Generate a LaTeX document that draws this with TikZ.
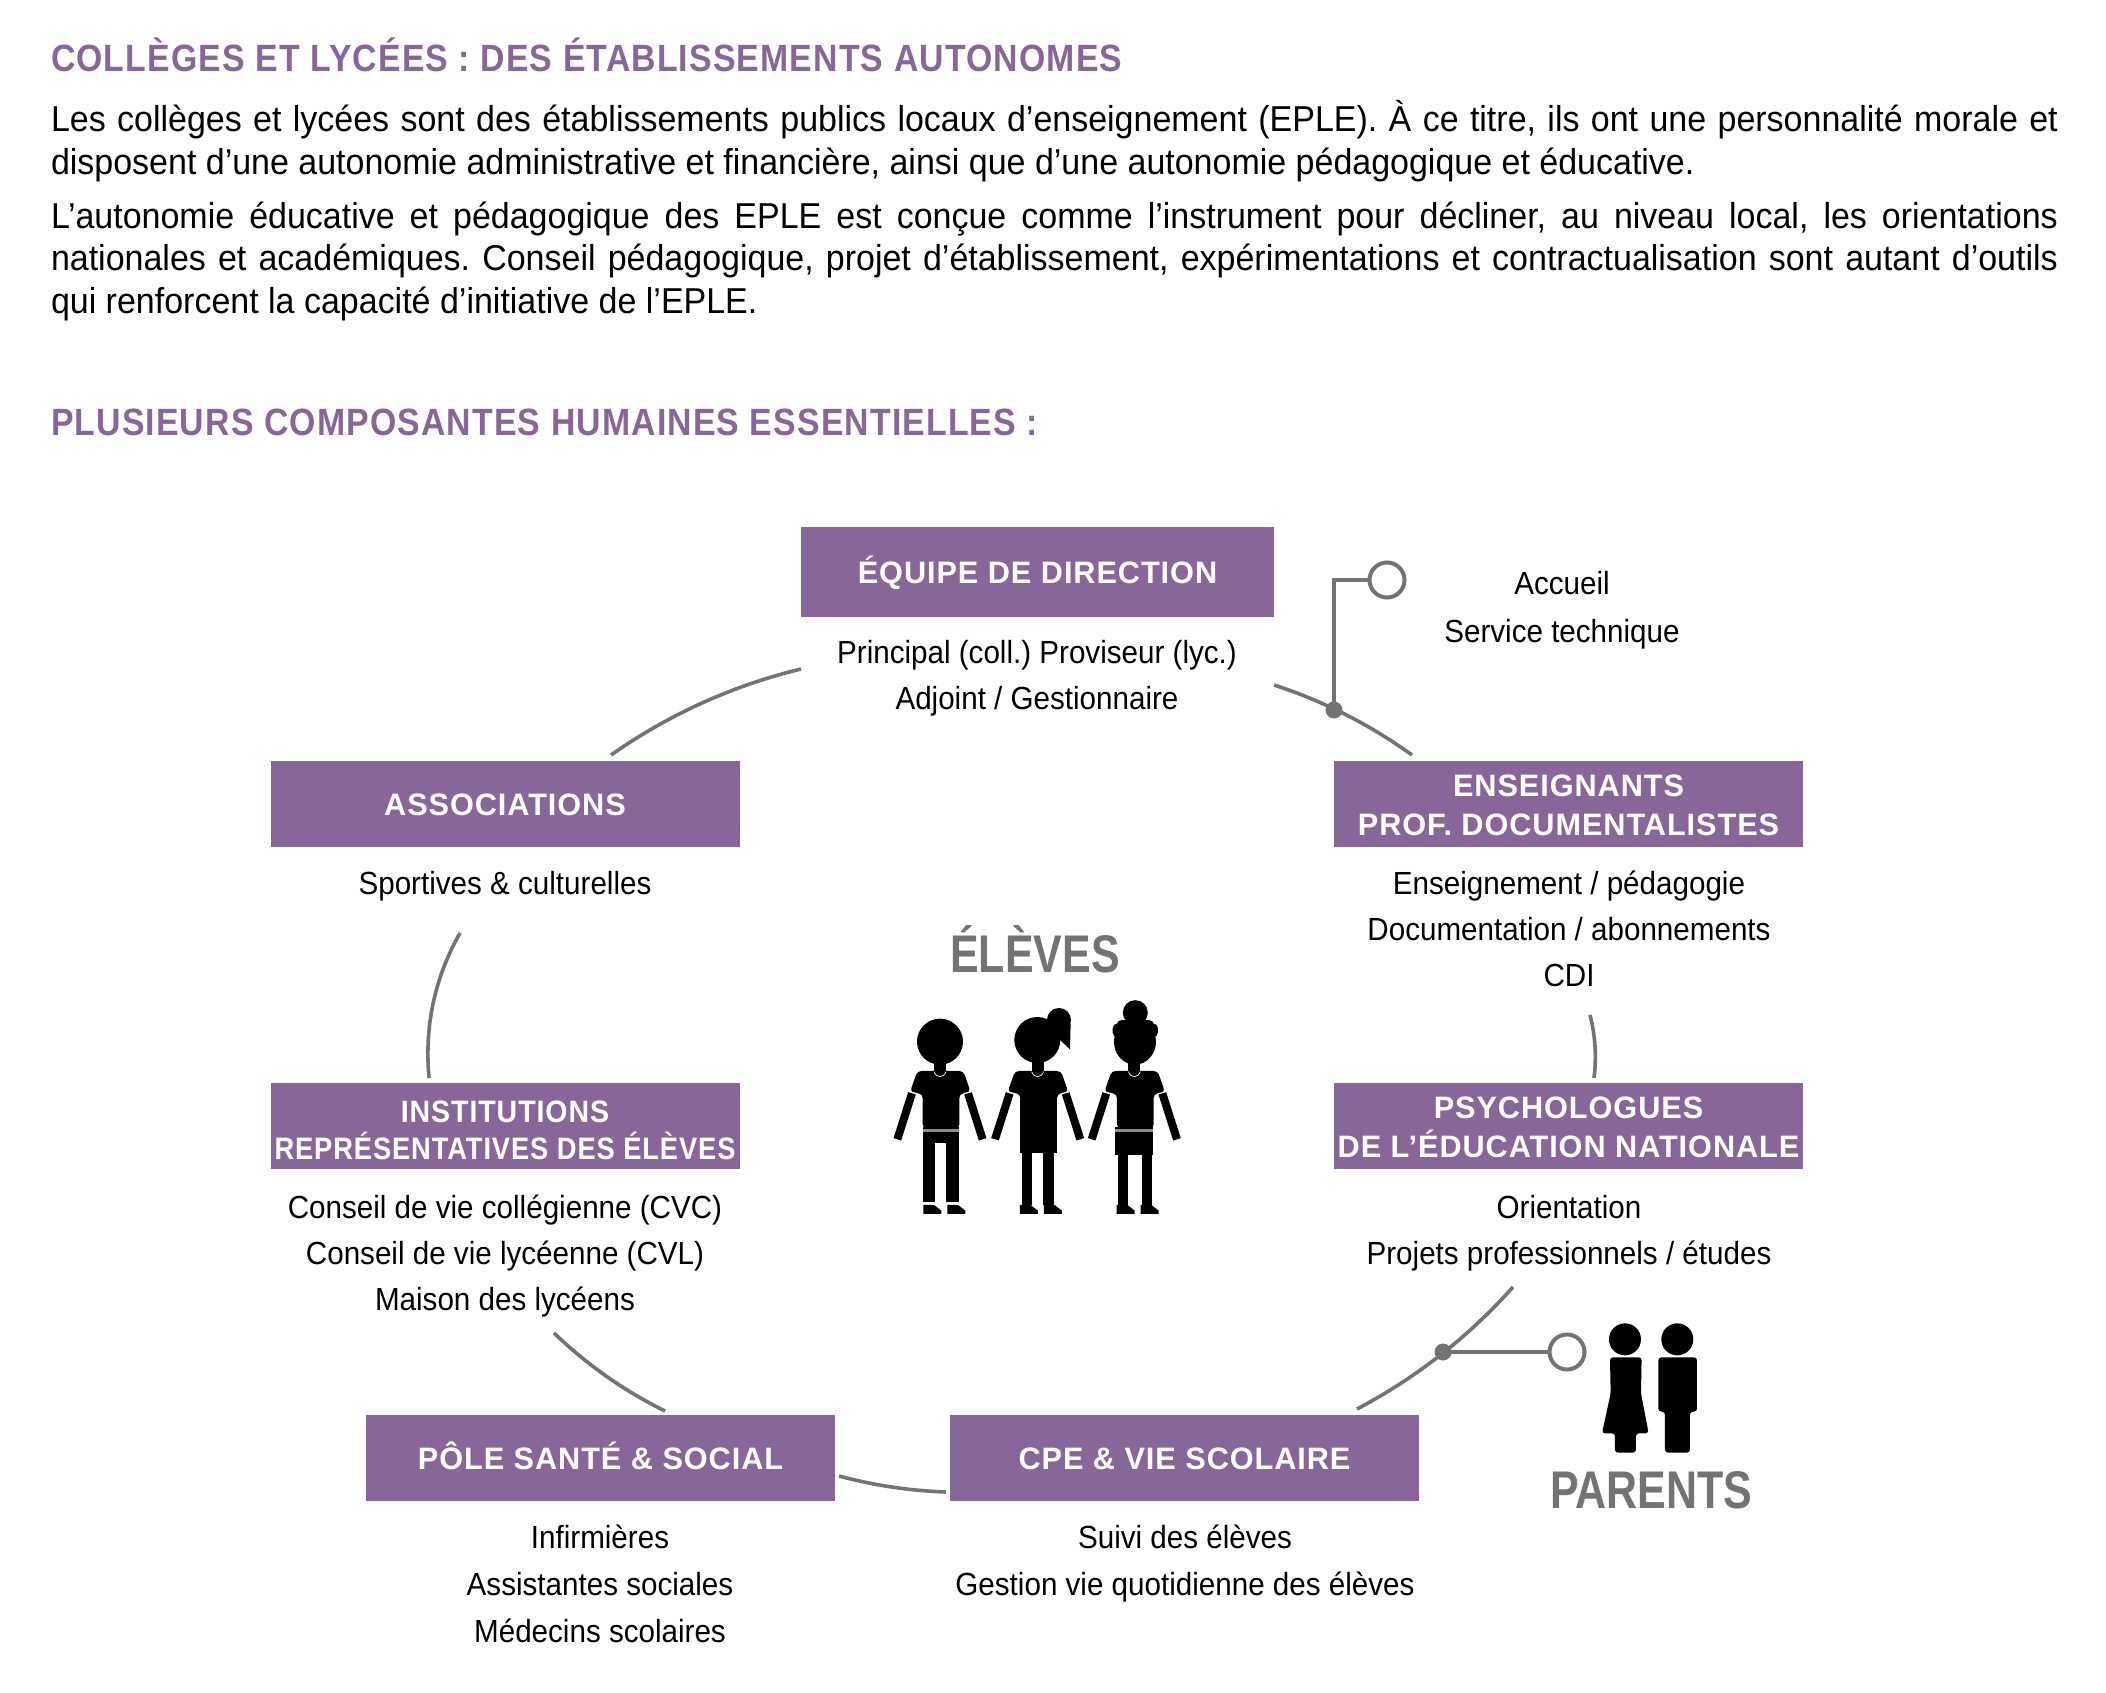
\documentclass[tikz,border=0pt]{standalone}
\usepackage{graphicx}
\usepackage{fontspec}
\usetikzlibrary{calc}
\setmainfont[FakeStretch=0.944]{Liberation Sans}
\newfontfamily\listf[FakeStretch=0.925]{Liberation Sans}
\newfontfamily\boxf[FakeStretch=0.99,LetterSpace=3]{Liberation Sans}
\newfontfamily\boxg[FakeStretch=0.92,LetterSpace=3]{Liberation Sans}
\newfontfamily\headf[FakeStretch=0.89,LetterSpace=3]{Liberation Sans}
\newfontfamily\bigf[FakeStretch=0.81]{Liberation Sans}
\definecolor{violetb}{HTML}{886699}
\definecolor{grisc}{HTML}{737373}
\frenchspacing
\newcommand{\rows}[3]{\fontsize{#1}{#2}\selectfont\begin{tabular}[t]{@{}c@{}}#3\end{tabular}}
\newcommand{\lrows}[3]{\fontsize{#1}{#2}\selectfont\listf\begin{tabular}[t]{@{}c@{}}#3\end{tabular}}
\newcommand{\just}[1]{\makebox[2007pt][s]{#1}}
\newcommand{\armsNeck}{%
  \fill (222,305) rectangle (258,345);
  \fill[rounded corners=4pt] (172,333) -- (310,333) -- (332,396) -- (298,402) -- (298,505) -- (188,505) -- (188,402) -- (150,396) -- cycle;
  \draw[white,line width=0.7pt] (222,335) .. controls (230,355) and (250,355) .. (258,335);
  \draw[line width=8pt] (156,400) -- (112,538);
  \draw[line width=8pt] (324,400) -- (368,538);
  \draw[white,line width=0.6pt] (148,396) -- (172,400);
  \draw[white,line width=0.6pt] (310,400) -- (334,396);
}
\newcommand{\shoes}[2]{%
  \fill (#1,735) -- (#1+32,735) -- (#1+54,752) -- (#1+54,762) -- (#1,762) -- cycle;
  \fill (#2,735) -- (#2+32,735) -- (#2+54,752) -- (#2+54,762) -- (#2,762) -- cycle;
}
\tikzset{
  every node/.style={inner sep=0pt,outer sep=0pt},
  boxn/.style={fill=violetb,text=white,minimum width=469pt,minimum height=86pt,font=\boxf\bfseries},
  listn/.style={anchor=base,text=black},
  para/.style={anchor=base west,text=black,font=\fontsize{36}{42}\selectfont},
  titre/.style={anchor=base west,text=violetb,font=\fontsize{38}{42}\selectfont\headf\bfseries},
  bigt/.style={anchor=base,text=grisc,font=\fontsize{53}{56}\selectfont\bigf\bfseries},
  arcl/.style={draw=grisc,line width=3.6pt},
  linkl/.style={draw=grisc,line width=4pt},
  ringn/.style={circle,draw=grisc,line width=4pt,fill=white,minimum size=35pt},
  dotn/.style={circle,fill=grisc,minimum size=17pt}
}
\newcommand{\arcq}[3]{\draw[arcl] (#1) .. controls ($(#1)!0.6667!(#2)$) and ($(#3)!0.6667!(#2)$) .. (#3);}
\begin{document}
\begin{tikzpicture}[x=1pt,y=-1pt]
\useasboundingbox (0,0) rectangle (2106,1693);
\fill[white] (0,0) rectangle (2106,1693);

% Texte d'en-tete
\node[titre] (t1) at (51,72) {COLLÈGES ET LYCÉES : DES ÉTABLISSEMENTS AUTONOMES};
\node[para] (p1) at (51,132) {\just{Les collèges et lycées sont des établissements publics locaux d’enseignement (EPLE). À ce titre, ils ont une personnalité morale et}};
\node[para] (p2) at (51,174.5) {disposent d’une autonomie administrative et financière, ainsi que d’une autonomie pédagogique et éducative.};
\node[para] (p3) at (51,229) {\just{L’autonomie éducative et pédagogique des EPLE est conçue comme l’instrument pour décliner, au niveau local, les orientations}};
\node[para] (p4) at (51,271) {\just{nationales et académiques. Conseil pédagogique, projet d’établissement, expérimentations et contractualisation sont autant d’outils}};
\node[para] (p5) at (51,314) {qui renforcent la capacité d’initiative de l’EPLE.};
\node[titre] (t2) at (51,435) {PLUSIEURS COMPOSANTES HUMAINES ESSENTIELLES :};

% Boites
\node[boxn,minimum width=473pt,minimum height=90pt,text height=56pt,text depth=34pt] (dir) at (1037.5,572) {\rows{31}{39}{ÉQUIPE DE DIRECTION}};
\node[boxn,text height=54pt,text depth=32pt] (asso) at (505,804) {\rows{31}{39}{ASSOCIATIONS}};
\node[boxn,text height=35pt,text depth=51pt] (ens) at (1568.5,804) {\rows{31}{39}{ENSEIGNANTS\\PROF. DOCUMENTALISTES}};
\node[boxn,font=\boxg\bfseries,text height=39pt,text depth=47pt] (inst) at (505,1126) {\rows{31}{32}{INSTITUTIONS\\\resizebox{461pt}{\height}{REPRÉSENTATIVES DES ÉLÈVES}}};
\node[boxn,text height=35pt,text depth=51pt] (psy) at (1568.5,1126) {\rows{31}{39}{PSYCHOLOGUES\\DE L’ÉDUCATION NATIONALE}};
\node[boxn,text height=55pt,text depth=31pt] (pole) at (600.5,1457.5) {\rows{31}{39}{PÔLE SANTÉ \& SOCIAL}};
\node[boxn,text height=55pt,text depth=31pt] (cpe) at (1184.5,1457.5) {\rows{31}{39}{CPE \& VIE SCOLAIRE}};

% Listes
\node[listn] (ldir) at (1037,663) {\lrows{32}{46}{Principal (coll.) Proviseur (lyc.)\\Adjoint / Gestionnaire}};
\node[listn] (lasso) at (505,894) {\lrows{32}{46}{Sportives \& culturelles}};
\node[listn] (lens) at (1569,894) {\lrows{32}{46}{Enseignement / pédagogie\\Documentation / abonnements\\CDI}};
\node[listn] (lpsy) at (1569,1218) {\lrows{32}{46}{Orientation\\Projets professionnels / études}};
\node[listn] (linst) at (505,1218) {\lrows{32}{46}{Conseil de vie collégienne (CVC)\\Conseil de vie lycéenne (CVL)\\Maison des lycéens}};
\node[listn] (lpole) at (600,1548) {\lrows{32}{47}{Infirmières\\Assistantes sociales\\Médecins scolaires}};
\node[listn] (lcpe) at (1185,1548) {\lrows{32}{47}{Suivi des élèves\\Gestion vie quotidienne des élèves}};
\node[listn] (lacc) at (1562,594) {\lrows{32}{48}{Accueil\\Service technique}};

% Titres centraux
\node[bigt] (elv) at (1035,972) {ÉLÈVES};
\node[bigt] (par) at (1651,1508) {PARENTS};

% Liaisons
\coordinate (a1s) at (1274,685); \coordinate (a1c) at (1348,709); \coordinate (a1e) at (1412,755);
\coordinate (a2s) at (801,669);  \coordinate (a2c) at (698,694);  \coordinate (a2e) at (611,755);
\coordinate (a3s) at (460,933);  \coordinate (a3c) at (422,1000); \coordinate (a3e) at (429,1078);
\coordinate (a4s) at (554,1333); \coordinate (a4c) at (604,1381); \coordinate (a4e) at (665,1411);
\coordinate (a5s) at (839,1476); \coordinate (a5c) at (891,1490); \coordinate (a5e) at (946,1492);
\coordinate (a6s) at (1357,1409);\coordinate (a6c) at (1446,1362);\coordinate (a6e) at (1513,1287);
\coordinate (a7s) at (1590,1015);\coordinate (a7c) at (1598,1046);\coordinate (a7e) at (1594,1078);
\arcq{a1s}{a1c}{a1e}
\arcq{a2s}{a2c}{a2e}
\arcq{a3s}{a3c}{a3e}
\arcq{a4s}{a4c}{a4e}
\arcq{a5s}{a5c}{a5e}
\arcq{a6s}{a6c}{a6e}
\arcq{a7s}{a7c}{a7e}

\node[dotn] (d1) at (1334,710) {};
\node[ringn] (r1) at (1387,580) {};
\draw[linkl] (d1.center) |- (r1.west);
\node[dotn] (d2) at (1443,1352) {};
\node[ringn] (r2) at (1567,1352) {};
\draw[linkl] (d2.center) -- (r2.west);

% Eleves
\begin{scope}[shift={(860,960)},x=0.3333pt,y=-0.3333pt,fill=black,draw=black]
  % garcon
  \fill (240,245) circle [radius=23pt];
  \armsNeck
  \fill (188,500) rectangle (298,550);
  \fill[black!45] (188,507) rectangle (298,516);
  \fill (188,550) rectangle (226,725);
  \fill (258,550) rectangle (298,725);
  \shoes{190}{262}
  % fille a queue de cheval
  \fill (532,240) circle [radius=23pt];
  \fill (597,180) circle [radius=12pt];
  \fill (590,200) -- (632,190) -- (630,268) -- (600,240) -- cycle;
  \begin{scope}[shift={(293,0)}]
    \armsNeck
  \end{scope}
  \fill (480,400) rectangle (592,578);
  \fill (486,578) rectangle (516,735);
  \fill (550,578) rectangle (582,735);
  \shoes{480}{552}
  % fille a chignon
  \fill (825,245) ellipse [x radius=21pt,y radius=23pt];
  \fill (826,158) circle [radius=12.5pt];
  \fill[rounded corners=5pt] (770,180) rectangle (882,235);
  \fill[rounded corners=5pt] (758,190) rectangle (894,232);
  \begin{scope}[shift={(583,0)}]
    \armsNeck
  \end{scope}
  \fill (766,500) rectangle (880,585);
  \fill[black!45] (766,507) rectangle (880,516);
  \fill (774,585) rectangle (804,735);
  \fill (845,585) rectangle (875,735);
  \shoes{770}{842}
\end{scope}

% Parents
\begin{scope}[shift={(1340,1280)},x=0.3333pt,y=-0.3333pt]
  \fill (855,178) circle [radius=16pt];
  \fill[rounded corners=3pt] (810,232) -- (905,232) -- (903,340) -- (926,460) -- (888,460) -- (888,518) -- (825,518) -- (825,460) -- (786,460) -- (812,340) -- cycle;
  \fill (1012,178) circle [radius=16pt];
  \fill[rounded corners=3pt] (955,232) -- (1071,232) -- (1071,395) -- (1050,395) -- (1050,518) -- (975,518) -- (975,395) -- (955,395) -- cycle;
\end{scope}
\end{tikzpicture}
\end{document}
